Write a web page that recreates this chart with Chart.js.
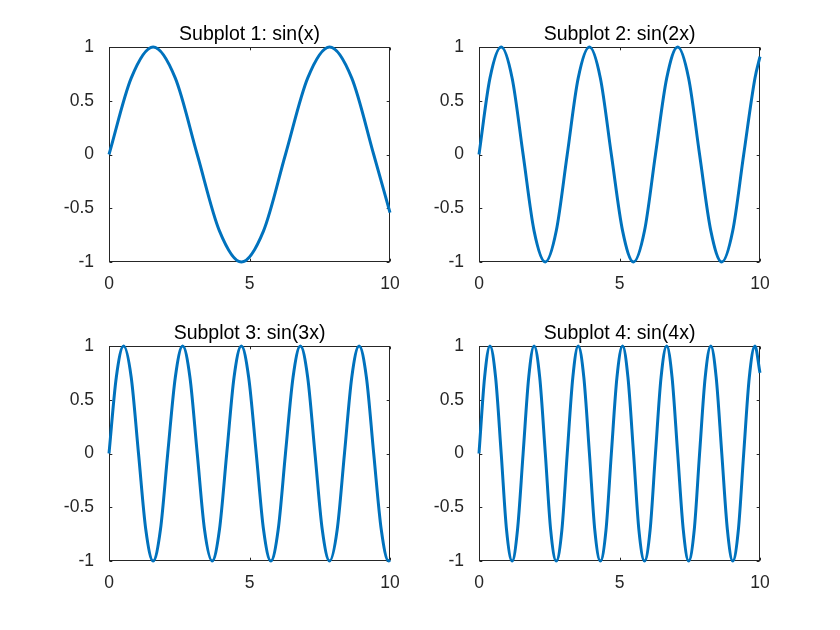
<!DOCTYPE html>
<html>
<head>
<meta charset="utf-8">
<script src="https://cdn.jsdelivr.net/npm/chart.js@4.4.1/dist/chart.umd.min.js"></script>
<style>
  html, body { margin: 0; padding: 0; background: #fff; }
  #fig { position: relative; width: 840px; height: 630px; background: #fff; overflow: hidden; }
  .ax { position: absolute; }
</style>
</head>
<body>
<div id="fig"></div>
<script>
// tick labels shared by all four axes
const xTicks = [0, 5, 10];
const yTicks = [-1, -0.5, 0, 0.5, 1];

const titles = ['Subplot 1: sin(x)', 'Subplot 2: sin(2x)', 'Subplot 3: sin(3x)', 'Subplot 4: sin(4x)'];

// points (peaks, zeros, half-way points, end)
const x1 = [0, 0.79, 1.57, 2.36, 3.14, 3.93, 4.71, 5.50, 6.28, 7.07, 7.85, 8.64, 9.42, 10];
const y1 = [0, 0.71, 1, 0.71, 0, -0.71, -1, -0.71, 0, 0.71, 1, 0.71, 0, -0.54];

const x2 = [0, 0.39, 0.79, 1.18, 1.57, 1.96, 2.36, 2.75, 3.14, 3.53, 3.93, 4.32, 4.71, 5.11,
  5.50, 5.89, 6.28, 6.68, 7.07, 7.46, 7.85, 8.25, 8.64, 9.03, 9.42, 9.82, 10];
const y2 = [0, 0.71, 1, 0.71, 0, -0.71, -1, -0.71, 0, 0.71, 1, 0.71, 0, -0.71,
  -1, -0.71, 0, 0.71, 1, 0.71, 0, -0.71, -1, -0.71, 0, 0.71, 0.91];

const x3 = [0, 0.26, 0.52, 0.79, 1.05, 1.31, 1.57, 1.83, 2.09, 2.36, 2.62, 2.88, 3.14, 3.40,
  3.67, 3.93, 4.19, 4.45, 4.71, 4.97, 5.24, 5.50, 5.76, 6.02, 6.28, 6.55, 6.81, 7.07,
  7.33, 7.59, 7.85, 8.12, 8.38, 8.64, 8.90, 9.16, 9.42, 9.69, 9.95, 10];
const y3 = [0, 0.71, 1, 0.71, 0, -0.71, -1, -0.71, 0, 0.71, 1, 0.71, 0, -0.71,
  -1, -0.71, 0, 0.71, 1, 0.71, 0, -0.71, -1, -0.71, 0, 0.71, 1, 0.71,
  0, -0.71, -1, -0.71, 0, 0.71, 1, 0.71, 0, -0.71, -1, -0.99];

const x4 = [0, 0.20, 0.39, 0.59, 0.79, 0.98, 1.18, 1.37, 1.57, 1.77, 1.96, 2.16, 2.36, 2.55,
  2.75, 2.95, 3.14, 3.34, 3.53, 3.73, 3.93, 4.12, 4.32, 4.52, 4.71, 4.91, 5.11, 5.30,
  5.50, 5.69, 5.89, 6.09, 6.28, 6.48, 6.68, 6.87, 7.07, 7.27, 7.46, 7.66, 7.85, 8.05,
  8.25, 8.44, 8.64, 8.84, 9.03, 9.23, 9.42, 9.62, 9.82, 10];
const y4 = [0, 0.71, 1, 0.71, 0, -0.71, -1, -0.71, 0, 0.71, 1, 0.71, 0, -0.71,
  -1, -0.71, 0, 0.71, 1, 0.71, 0, -0.71, -1, -0.71, 0, 0.71, 1, 0.71,
  0, -0.71, -1, -0.71, 0, 0.71, 1, 0.71, 0, -0.71, -1, -0.71, 0, 0.71,
  1, 0.71, 0, -0.71, -1, -0.71, 0, 0.71, 1, 0.75];

const series = [[x1, y1], [x2, y2], [x3, y3], [x4, y4]];

// axes boxes in figure pixels (MATLAB default subplot positions)
const axLeft = [109, 479, 109, 479];
const axTop = [47, 47, 346, 346];
const axW = 281, axH = 215;
const padL = 70, padT = 40, padR = 30, padB = 40;

const axisColor = '#262626';
const font = "'Liberation Sans', Arial, sans-serif";

// box, inward ticks and title like MATLAB axes
const matlabAxes = {
  id: 'matlabAxes',
  beforeDatasetsDraw(chart, args, opts) {
    const { ctx, chartArea: a, scales } = chart;
    const tl = 2.8;
    ctx.save();
    ctx.strokeStyle = axisColor;
    ctx.lineWidth = 1;
    const L = Math.round(a.left) + 0.5, R = Math.round(a.right) - 0.5;
    const T = Math.round(a.top) + 0.5, B = Math.round(a.bottom) - 0.5;
    ctx.strokeRect(L, T, R - L, B - T);
    ctx.beginPath();
    xTicks.forEach(v => {
      const px = Math.round(scales.x.getPixelForValue(v)) + 0.5;
      ctx.moveTo(px, B); ctx.lineTo(px, B - tl);
      ctx.moveTo(px, T); ctx.lineTo(px, T + tl);
    });
    yTicks.forEach(v => {
      const py = Math.round(scales.y.getPixelForValue(v)) + 0.5;
      ctx.moveTo(L, py); ctx.lineTo(L + tl, py);
      ctx.moveTo(R, py); ctx.lineTo(R - tl, py);
    });
    ctx.stroke();
    ctx.restore();
  },
  afterDraw(chart, args, opts) {
    const { ctx, chartArea: a } = chart;
    ctx.save();
    ctx.fillStyle = '#000';
    ctx.font = '19.5px ' + font;
    ctx.textAlign = 'center';
    ctx.textBaseline = 'alphabetic';
    ctx.fillText(opts.title, (a.left + a.right) / 2, a.top - 7);
    ctx.restore();
  }
};

const fig = document.getElementById('fig');

series.forEach(([xs, ys], i) => {
  const box = document.createElement('div');
  box.className = 'ax';
  box.style.left = (axLeft[i] - padL) + 'px';
  box.style.top = (axTop[i] - padT) + 'px';
  box.style.width = (axW + padL + padR) + 'px';
  box.style.height = (axH + padT + padB) + 'px';
  const canvas = document.createElement('canvas');
  box.appendChild(canvas);
  fig.appendChild(box);

  new Chart(canvas.getContext('2d'), {
    type: 'line',
    data: {
      datasets: [{
        data: xs.map((x, j) => ({ x: x, y: ys[j] })),
        borderColor: '#0072BD',
        borderWidth: 3,
        pointRadius: 0,
        fill: false,
        cubicInterpolationMode: 'monotone',
        clip: false
      }]
    },
    options: {
      responsive: true,
      maintainAspectRatio: false,
      animation: false,
      events: [],
      layout: { padding: { top: padT, right: padR, left: 0, bottom: 0 } },
      plugins: {
        legend: { display: false },
        tooltip: { enabled: false },
        matlabAxes: { title: titles[i] }
      },
      scales: {
        x: {
          type: 'linear',
          min: 0, max: 10,
          grid: { display: false },
          border: { display: false },
          afterBuildTicks: s => { s.ticks = xTicks.map(v => ({ value: v })); },
          afterFit: s => { s.height = padB; },
          ticks: {
            color: axisColor,
            font: { family: font, size: 17.5 },
            padding: 4,
            maxRotation: 0,
            autoSkip: false,
            callback: v => String(v)
          }
        },
        y: {
          type: 'linear',
          min: -1, max: 1,
          grid: { display: false },
          border: { display: false },
          afterBuildTicks: s => { s.ticks = yTicks.map(v => ({ value: v })); },
          afterFit: s => { s.width = padL; },
          ticks: {
            color: axisColor,
            font: { family: font, size: 17.5 },
            padding: 7,
            autoSkip: false,
            callback: v => String(v)
          }
        }
      }
    },
    plugins: [matlabAxes]
  });
});
</script>
</body>
</html>
